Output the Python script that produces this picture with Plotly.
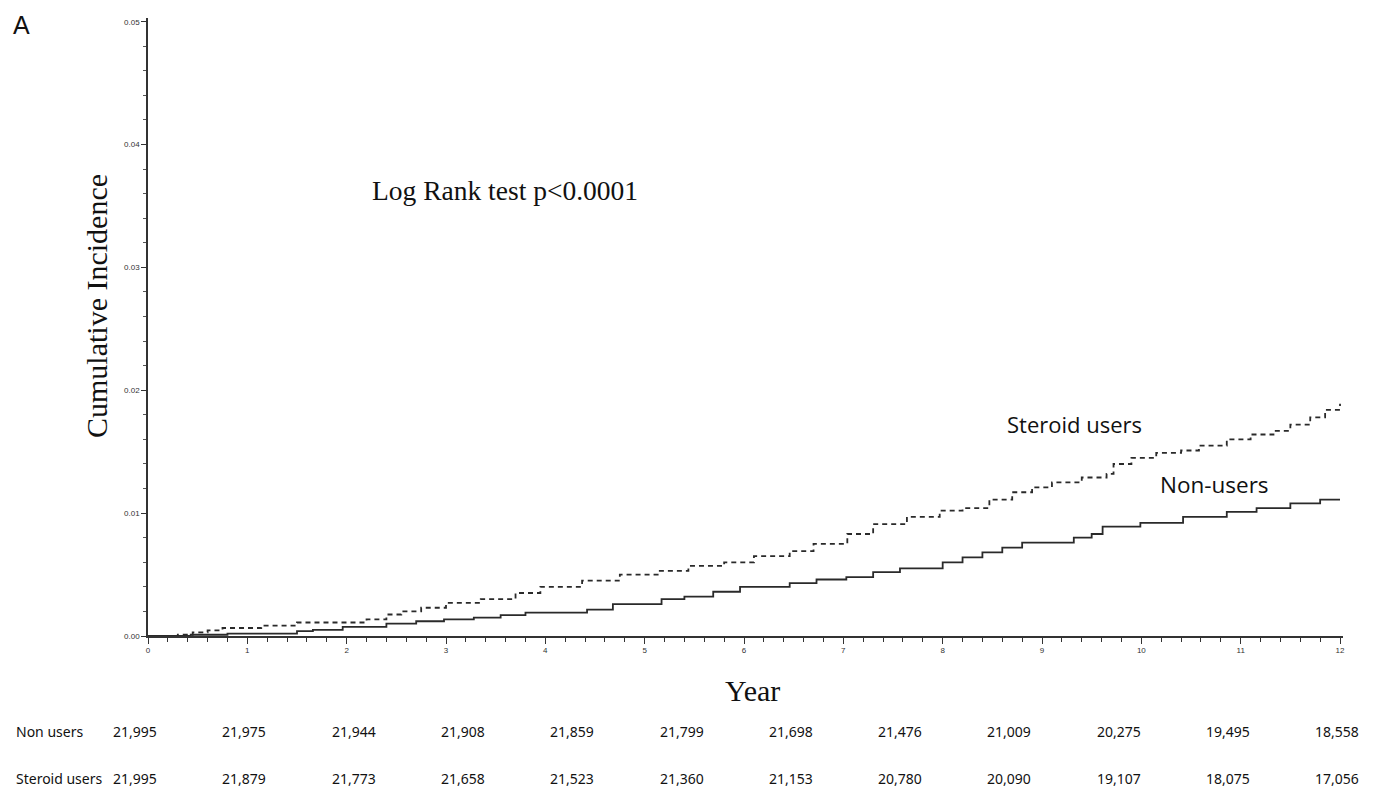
import plotly.graph_objects as go

# ---- data ----
non_t = [0, 0.43, 0.8, 1.5, 1.66, 1.96, 2.4, 2.7, 2.98, 3.28, 3.55, 3.8, 4.42, 4.68, 5.17, 5.4, 5.69,
         5.96, 6.46, 6.73, 7.03, 7.3, 7.57, 8.0, 8.2, 8.4, 8.6, 8.8, 9.32, 9.5, 9.61, 9.99, 10.42,
         10.86, 11.16, 11.5, 11.8, 12.0]
non_v = [0, 0.0001, 0.0002, 0.0004, 0.0005, 0.00075, 0.001, 0.0012, 0.00135, 0.0015, 0.0017, 0.0019,
         0.00215, 0.0026, 0.003, 0.0032, 0.0036, 0.004, 0.0043, 0.0046, 0.0048, 0.0052, 0.0055, 0.006,
         0.0064, 0.0068, 0.0072, 0.0076, 0.008, 0.0083, 0.0089, 0.0092, 0.0097, 0.0101, 0.0104, 0.0108,
         0.0111, 0.0111]

ster_t = [0, 0.3, 0.45, 0.6, 0.75, 1.14, 1.5, 2.2, 2.4, 2.55, 2.75, 3.0, 3.35, 3.7, 3.95, 4.37, 4.75,
          5.14, 5.44, 5.8, 6.1, 6.46, 6.7, 7.04, 7.3, 7.64, 7.97, 8.2, 8.47, 8.7, 8.9, 9.1, 9.4, 9.65,
          9.72, 9.9, 10.15, 10.4, 10.58, 10.86, 11.1, 11.33, 11.5, 11.7, 11.85, 12.0]
ster_v = [0, 0.0001, 0.0003, 0.00045, 0.00065, 0.00085, 0.0011, 0.00135, 0.00175, 0.002, 0.0023, 0.0027,
          0.003, 0.0035, 0.004, 0.0045, 0.005, 0.0053, 0.0057, 0.006, 0.0065, 0.0069, 0.0075, 0.0083,
          0.0091, 0.0097, 0.0102, 0.0104, 0.0111, 0.0117, 0.0121, 0.0125, 0.0129, 0.0132, 0.014, 0.0145,
          0.0149, 0.0151, 0.0155, 0.016, 0.0164, 0.0167, 0.0172, 0.0178, 0.0184, 0.0189]

x_ticks = list(range(0, 13))
y_ticks = [0.0, 0.01, 0.02, 0.03, 0.04, 0.05]
y_tick_labels = ["0.00", "0.01", "0.02", "0.03", "0.04", "0.05"]

risk_groups = ["Non users", "Steroid users"]
risk_non = ["21,995", "21,975", "21,944", "21,908", "21,859", "21,799", "21,698", "21,476",
            "21,009", "20,275", "19,495", "18,558"]
risk_ster = ["21,995", "21,879", "21,773", "21,658", "21,523", "21,360", "21,153", "20,780",
             "20,090", "19,107", "18,075", "17,056"]

# ---- layout geometry (page body adds an 8px offset) ----
OFF = 8
W, H = 1375, 793
L = 148 - OFF
T = 18 - OFF
R = W - (1343 - OFF)
B = H - (636 - OFF)
pw, ph = W - L - R, H - T - B


def px(x):
    return (x - OFF - L) / pw


def py(y):
    return (H - B - (y - OFF)) / ph


fig = go.Figure()
fig.add_trace(go.Scatter(x=non_t, y=non_v, mode="lines", line_shape="hv",
                         line=dict(color="#2a2a2a", width=1.8), name="Non-users"))
fig.add_trace(go.Scatter(x=ster_t, y=ster_v, mode="lines", line_shape="hv",
                         line=dict(color="#2a2a2a", width=1.8, dash="5px,4px"), name="Steroid users"))

ann = []


def add(text, x, y, size, family, xanchor="left", yanchor="middle", color="#111"):
    ann.append(dict(text=text, x=px(x), y=py(y), xref="paper", yref="paper", showarrow=False,
                    xanchor=xanchor, yanchor=yanchor,
                    font=dict(size=size, family=family, color=color)))


add("A", 11, 25, 25, "Liberation Sans")
add("Log Rank test p&lt;0.0001", 370, 190, 27.5, "Liberation Serif")
add("Steroid users", 1005, 424, 22, "Open Sans")
add("Non-users", 1158, 484, 22.5, "Open Sans")
add("Year", 752, 690, 30, "Liberation Serif", xanchor="center")
ann.append(dict(text="Cumulative Incidence", x=px(96), y=py(306), xref="paper", yref="paper",
                showarrow=False, textangle=-90, xanchor="center", yanchor="middle",
                font=dict(size=30, family="Liberation Serif", color="#111")))

add(risk_groups[0], 14, 731, 14, "Noto Sans")
add(risk_groups[1], 14, 778, 14, "Noto Sans")
for i, (a, b) in enumerate(zip(risk_non, risk_ster)):
    cx = 135 + 109.3 * i
    add(a, cx, 731, 14, "Noto Sans", xanchor="center")
    add(b, cx, 778, 14, "Noto Sans", xanchor="center")

fig.update_layout(
    width=W, height=H,
    margin=dict(l=L, r=R, t=T, b=B, autoexpand=False),
    paper_bgcolor="white", plot_bgcolor="white",
    showlegend=False,
    annotations=ann,
    xaxis=dict(range=[0, 12.03], tickvals=x_ticks, ticktext=[str(v) for v in x_ticks],
               showgrid=False, zeroline=False, showline=True, linecolor="#333", linewidth=1.5,
               ticks="outside", ticklen=6, tickcolor="#333", tickwidth=1,
               tickfont=dict(size=8, family="Liberation Sans", color="#333"),
               minor=dict(dtick=0.2, ticks="outside", ticklen=4, tickcolor="#333", tickwidth=1)),
    yaxis=dict(range=[0, 0.0503], tickvals=y_ticks, ticktext=y_tick_labels,
               showgrid=False, zeroline=False, showline=True, linecolor="#333", linewidth=1.5,
               ticks="outside", ticklen=5, tickcolor="#333", tickwidth=1,
               tickfont=dict(size=8, family="Liberation Sans", color="#333"),
               minor=dict(dtick=0.002, ticks="outside", ticklen=3, tickcolor="#555", tickwidth=1)),
)

fig.write_html("out.html")
